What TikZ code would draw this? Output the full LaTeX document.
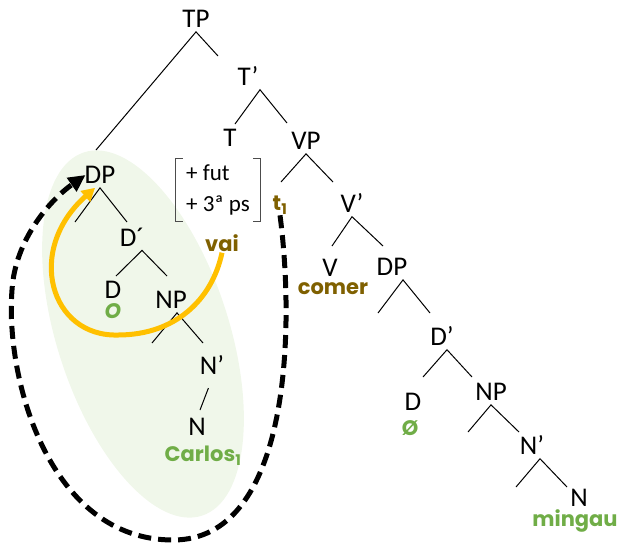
\documentclass[tikz,border=0pt]{standalone}
\usepackage{fontspec}
\setmainfont{Carlito}
\newfontfamily\comic{Poppins}
\usetikzlibrary{arrows.meta}
\definecolor{wordgreen}{HTML}{70AD47}
\definecolor{wordbrown}{HTML}{7F6000}
\definecolor{arcorange}{HTML}{FFC000}
\definecolor{blobgreen}{HTML}{F0F7EA}

\begin{document}
\begin{tikzpicture}[x=1pt, y=-1pt,
			cat/.style={inner sep=4pt, font=\fontsize{27}{30}\selectfont},
			word/.style={inner sep=1pt, font=\comic\bfseries\fontsize{21}{24}\selectfont},
			feat/.style={inner sep=0pt, align=left, minimum width=84pt, minimum height=63pt,
				font=\fontsize{23}{31}\selectfont},
			leg/.style={line width=1pt},
			bracket/.style={line width=1pt, black!70},
			move/.style={line width=5pt, -{Triangle[length=13pt, width=14pt]}},
			trail/.style={line width=5pt, dash pattern=on 13pt off 7pt,
				-{Triangle[length=17pt, width=16pt]}}]
	\useasboundingbox (0,0) rectangle (617,547);
	% subject
	\fill[blobgreen, rotate around={-72:(143,334)}] (143,334) ellipse [x radius=191pt, y radius=86pt];

	\node [cat] (tp) at (196,19) {TP};
	\node [cat] (tbar) at (248,76) {T’};
	\node [cat] (t) at (230,138) {T};
	\node [cat] (vp) at (306,141) {VP};
	\node [cat] (vbar) at (352,203) {V’};
	\node [cat] (v) at (330,268) {V};
	\node [cat] (dpo) at (392,267) {DP};
	\node [cat] (dbaro) at (442,336) {D’};
	\node [cat] (do) at (413,402) {D};
	\node [cat] (npo) at (491,392) {NP};
	\node [cat] (nbaro) at (532,445) {N’};
	\node [cat] (no) at (579,498) {N};
	\node [cat] (dps) at (100,175) {DP};
	\node [cat] (dbars) at (132,237) {D´};
	\node [cat] (ds) at (113,290) {D};
	\node [cat] (nps) at (171,300) {NP};
	\node [cat] (nbars) at (212,365) {N’};
	\node [cat] (ns) at (197,427) {N};

	% branch ends
	\foreach \name/\x/\y in {tp-l/96/150, tp-r/218/56, tbar-l/235/124, tbar-r/287/123,
			vp-l/281/182, vp-r/333/182, vbar-l/332/246, vbar-r/383/246,
			dpo-l/378/313, dpo-r/430/313, dbaro-l/423/377, dbaro-r/472/377,
			npo-l/468/432, npo-r/519/432, nbaro-l/516/487, nbaro-r/567/487,
			dps-l/75/222, dps-r/127/222, dbars-l/116/276, dbars-r/167/276,
			nps-l/152/343, nps-r/203/343, nbars-l/200/410}
		\coordinate (\name) at (\x,\y);
	\foreach \from/\dx in {tp/0, tbar/12, vp/0, vbar/0, dpo/11, dbaro/5,
			npo/0, nbaro/8, dps/0, dbars/10, nps/6}
		\draw [leg] (\from-l) -- ([xshift=\dx pt]\from.south) -- (\from-r);
	\draw [leg, shorten <=10pt] (nbars.south) -- (nbars-l);

	% features of T
	\node [feat] (feat) at (218,190) {+ fut\\+ 3ª ps};
	\draw [bracket] ([xshift=7pt]feat.north west) -| (feat.south west) -- ([xshift=7pt]feat.south west);
	\draw [bracket] ([xshift=-7pt]feat.north east) -| (feat.south east) -- ([xshift=-7pt]feat.south east);

	% words
	\node [word, text=wordbrown] (vai) at (222,243) {vai};
	\node [word, text=wordbrown] (trace) at (280,205) {t\textsubscript{1}};
	\node [word, text=wordbrown] (comer) at (333,289) {comer};
	\node [word, text=wordgreen] (art) at (113,311) {\itshape O};
	\node [word, text=wordgreen] (carlos) at (203,456) {Carlos\textsubscript{1}};
	\node [word, text=wordgreen] (null) at (410,428) {Ø};
	\node [word, text=wordgreen] (mingau) at (575,521) {mingau};

	% movements
	\draw [move, arcorange] (vai.south) .. controls (212,300) and (175,335) .. (118,335)
		.. controls (50,337) and (25,250) .. ([xshift=-5pt]dps.south);
	\draw [trail] (trace.south) .. controls (295,330) and (290,540) .. (173,540)
		.. controls (50,540) and (5,380) .. (12,290)
		.. controls (15,240) and (50,200) .. ([xshift=5pt]dps.west);
\end{tikzpicture}
\end{document}
